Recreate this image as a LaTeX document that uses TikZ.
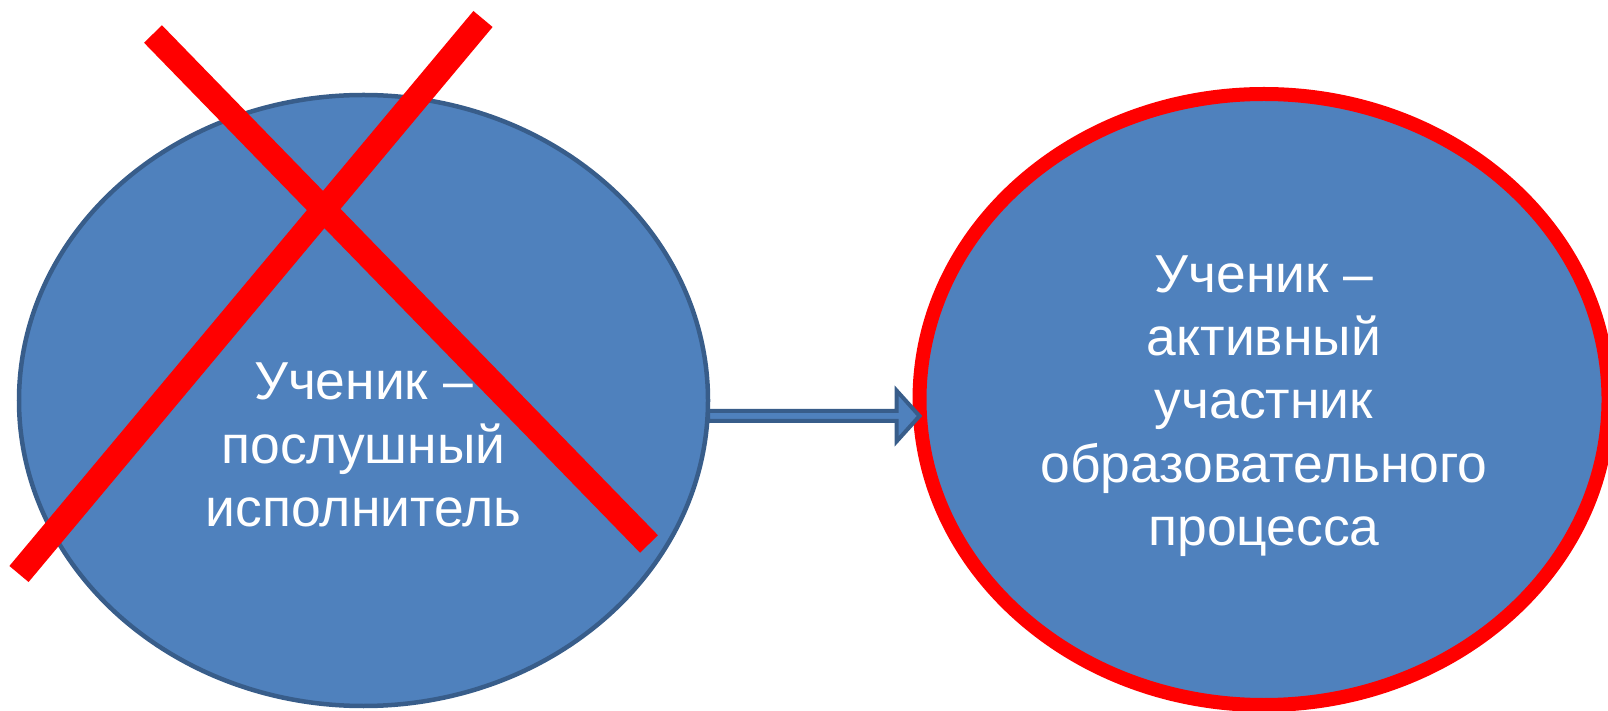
\documentclass[tikz,border=0pt]{standalone}
\usepackage{fontspec}
\setmainfont{Liberation Sans}
\usepackage{tikz}
\usetikzlibrary{arrows.meta,positioning,calc,shapes.geometric}
\definecolor{slideblue}{HTML}{4F81BD}
\definecolor{slideedge}{HTML}{385D8A}
\definecolor{crossred}{HTML}{FF0000}

\begin{document}
\begin{tikzpicture}[every node/.style={align=center}, >=Latex,
  blob/.style={ellipse, fill=slideblue, inner sep=0pt, outer sep=0pt, minimum width=6.89cm, minimum height=6.11cm},
  blobtext/.style={text=white, font=\fontsize{15.2}{18}\selectfont},
  crossline/.style={crossred, line width=0.25cm},
  blockarrow/.style={fill=slideblue, draw=slideedge, line width=0.04cm, line join=miter}]
  \useasboundingbox (0,0) rectangle (16.08,7.10);
  \node[blob, draw=slideedge, line width=0.045cm] (left) at (3.635,3.095) {};
  \node[blob, draw=crossred, line width=0.14cm] (right) at (12.64,3.105) {};
  \node[blobtext] (lefttext) at ($(left.center)+(0,-0.445)$) {Ученик –\\послушный\\исполнитель};
  \node[blobtext] (righttext) at ($(right.center)+(0,-0.065)$) {Ученик –\\активный\\участник\\образовательного\\процесса};
  % block arrow between the two ellipses
  \coordinate (atail) at ($(left.east)+(0,-0.155)$);
  \coordinate (atip) at ($(right.west)+(0,-0.165)$);
  \draw[blockarrow] ($(atail)+(0,0.05)$) -- ($(atip)+(-0.23,0.05)$) -- ($(atip)+(-0.23,0.255)$) -- (atip)
    -- ($(atip)+(-0.23,-0.255)$) -- ($(atip)+(-0.23,-0.05)$) -- ($(atail)+(0,-0.05)$) -- cycle;
  % red cross over the left ellipse
  \coordinate (xa) at (1.53,6.76);
  \coordinate (xb) at (6.49,1.66);
  \coordinate (ya) at (4.83,6.91);
  \coordinate (yb) at (0.19,1.36);
  \draw[crossline] (xa) -- (xb);
  \draw[crossline] (ya) -- (yb);
\end{tikzpicture}
\end{document}
